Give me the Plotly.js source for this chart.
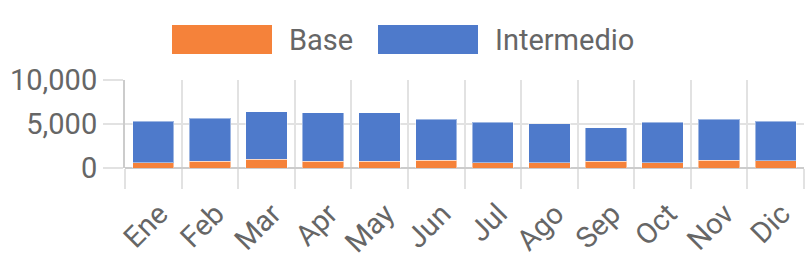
<!DOCTYPE html>
<html>
<head>
<meta charset="utf-8">
<script src="https://cdn.plot.ly/plotly-3.0.1.min.js"></script>
<style>html,body{margin:0;padding:0;background:#fff;}#chart{width:810px;height:270px;}</style>
</head>
<body>
<div id="chart"></div>
<script>
var months = ["Ene","Feb","Mar","Apr","May","Jun","Jul","Ago","Sep","Oct","Nov","Dic"];
var base = [610, 760, 990, 760, 760, 870, 610, 610, 760, 610, 870, 820];
var intermedio = [4690, 4890, 5410, 5530, 5530, 4660, 4580, 4430, 3790, 4580, 4660, 4480];
var seriesNames = ["Base", "Intermedio"];
var seriesColors = ["#F5823A", "#4E7ACB"];

var font = {family: "Roboto, sans-serif", color: "#666666"};
var traces = [
  {type: "bar", x: months, y: base, name: seriesNames[0],
   marker: {color: seriesColors[0], line: {color: "rgba(255,255,255,0.45)", width: 1}}, showlegend: false},
  {type: "bar", x: months, y: intermedio, name: seriesNames[1],
   marker: {color: seriesColors[1], line: {color: "rgba(255,255,255,0.45)", width: 1}}, showlegend: false}
];

// legend drawn with shapes and annotations (large swatches)
var plotL = 125, plotR = 804, plotT = 80, plotB = 168;
function px2x(p){ return (p - plotL) / (plotR - plotL); }
function py2y(p){ return (plotB - p) / (plotB - plotT); }
var legendItems = [
  {sx0: 172, sx1: 272, tx: 287},
  {sx0: 378, sx1: 478, tx: 493}
];
var shapes = [], annotations = [];
legendItems.forEach(function(it, i){
  shapes.push({type: "rect", xref: "paper", yref: "paper",
    x0: px2x(it.sx0), x1: px2x(it.sx1), y0: py2y(54), y1: py2y(25),
    fillcolor: seriesColors[i], line: {width: 0}});
  annotations.push({xref: "paper", yref: "paper", x: px2x(it.tx), y: py2y(39.5),
    xanchor: "left", yanchor: "middle", showarrow: false, text: seriesNames[i],
    font: {family: font.family, color: font.color, size: 29}});
});

var layout = {
  width: 810, height: 270,
  margin: {l: plotL, r: 810 - plotR, t: plotT, b: 270 - plotB},
  barmode: "stack", bargap: 0.27,
  showlegend: false,
  paper_bgcolor: "#ffffff", plot_bgcolor: "#ffffff",
  font: font,
  xaxis: {
    type: "category", tickson: "boundaries", showgrid: true, gridcolor: "#e2e2e2", gridwidth: 2,
    ticks: "outside", ticklen: 20, tickcolor: "#e2e2e2", tickwidth: 2,
    tickangle: -45, tickfont: {size: 29, color: "#666666"}, showline: false, zeroline: false,
    ticklabelstandoff: 22, ticklabelshift: 6
  },
  yaxis: {
    range: [0, 10000], tickvals: [0, 5000, 10000], ticktext: ["0", "5,000", "10,000"],
    showgrid: true, gridcolor: "#e2e2e2", gridwidth: 2,
    ticks: "outside", ticklen: 20, tickcolor: "#e2e2e2", tickwidth: 2,
    showline: true, linecolor: "#cccccc", linewidth: 2,
    zeroline: true, zerolinecolor: "#cccccc", zerolinewidth: 2,
    tickfont: {size: 29, color: "#666666"}, ticklabelstandoff: 0
  },
  shapes: shapes,
  annotations: annotations
};
Plotly.newPlot("chart", traces, layout, {displayModeBar: false, staticPlot: true});
</script>
</body>
</html>
